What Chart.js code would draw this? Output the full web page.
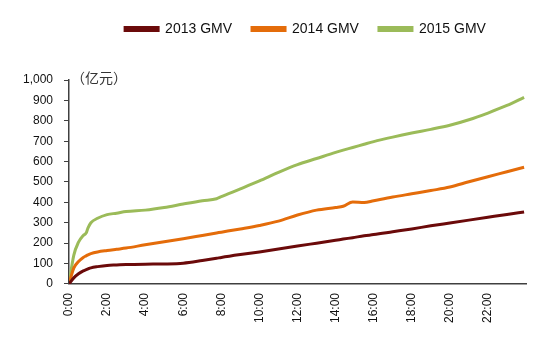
<!DOCTYPE html>
<html>
<head>
<meta charset="utf-8">
<script src="https://cdn.jsdelivr.net/npm/chart.js@4/dist/chart.umd.min.js"></script>
<style>
  html, body { margin: 0; padding: 0; background: #fff; }
  #wrap { width: 539px; height: 339px; }
</style>
</head>
<body>
<div id="wrap"><canvas id="gmvChart"></canvas></div>
<script>
// hour of day (decimal) and cumulative GMV in 亿元
const hours = [0, 0.25, 0.5, 0.75, 0.9, 1, 1.15, 1.5, 2, 2.5, 3, 4, 5, 6, 7, 7.75, 8, 9, 10, 11, 12, 13, 14, 14.4, 14.9, 15.5, 16, 17, 18, 19, 20, 21, 22, 23, 23.9];
const gmv2013 = [0, 30, 50, 64, 70, 74, 79, 85, 91, 93, 95, 97, 98, 102, 115, 126, 130, 144, 157, 171, 186, 200, 214, 220, 227, 236, 242, 256, 270, 285, 299, 313, 327, 341, 353];
const gmv2014 = [0, 78, 110, 130, 138, 143, 149, 157, 164, 170, 176, 192, 207, 222, 238, 250, 254, 270, 287, 308, 338, 362, 375, 381, 402, 399, 408, 426, 442, 458, 475, 501, 526, 550, 572];
const gmv2015 = [0, 140, 205, 238, 250, 275, 300, 322, 340, 347, 355, 362, 375, 392, 408, 418, 428, 466, 505, 547, 585, 615, 645, 656, 669, 685, 698, 720, 740, 758, 778, 805, 838, 875, 915];

const seriesNames = ['2013 GMV', '2014 GMV', '2015 GMV'];
const seriesColors = ['#6b0a0a', '#e46c0a', '#9bbb59'];
const unitLabel = '（亿元）';

function toPoints(values) {
    return values.map((v, i) => ({ x: hours[i], y: v }));
}

// extra room under the legend, and legend nudged right over the plot
const legendSpacing = {
    id: 'legendSpacing',
    beforeInit(chart) {
        const fit = chart.legend.fit;
        chart.legend.fit = function () {
            fit.call(this);
            this.height += 34;
        };
    },
    afterLayout(chart) {
        chart.legend.left += 32;
        chart.legend.right += 32;
    }
};

const unitPlugin = {
    id: 'unitLabel',
    afterDraw(chart) {
        const ctx = chart.ctx;
        ctx.save();
        ctx.font = '14px "Noto Sans CJK SC"';
        ctx.fillStyle = '#333';
        ctx.textBaseline = 'middle';
        ctx.fillText(unitLabel, chart.chartArea.left + 2, chart.chartArea.top - 2);
        ctx.restore();
    }
};

const axisColor = '#404040';
const textColor = '#111';

new Chart(document.getElementById('gmvChart'), {
    type: 'line',
    data: {
        datasets: [gmv2013, gmv2014, gmv2015].map((vals, i) => ({
            label: seriesNames[i],
            data: toPoints(vals),
            borderColor: seriesColors[i],
            backgroundColor: seriesColors[i],
            borderWidth: 3,
            pointRadius: 0,
            cubicInterpolationMode: 'monotone'
        }))
    },
    options: {
        responsive: true,
        maintainAspectRatio: false,
        animation: false,
        layout: {
            padding: { left: 21, right: 13, top: 2, bottom: 7 }
        },
        scales: {
            x: {
                type: 'linear',
                min: 0,
                max: 24,
                grid: { display: false, drawTicks: false },
                border: { display: true, color: axisColor, width: 1.5 },
                ticks: {
                    stepSize: 2,
                    autoSkip: false,
                    minRotation: 90,
                    maxRotation: 90,
                    padding: 9,
                    color: textColor,
                    font: { family: 'Liberation Sans, Arial', size: 12 },
                    callback: v => (v < 24 ? v + ':00' : null)
                }
            },
            y: {
                min: 0,
                max: 1000,
                grid: { drawOnChartArea: false, drawTicks: true, tickLength: 5, color: axisColor },
                border: { display: true, color: axisColor, width: 1.5 },
                ticks: {
                    stepSize: 100,
                    padding: 11,
                    color: textColor,
                    font: { family: 'Liberation Sans, Arial', size: 12 },
                    callback: v => v.toLocaleString('en-US')
                },
                afterFit: scale => { scale.width = 48; }
            }
        },
        plugins: {
            legend: {
                display: true,
                position: 'top',
                labels: {
                    boxWidth: 33,
                    boxHeight: 3,
                    padding: 20,
                    color: textColor,
                    font: { family: 'Liberation Sans, Arial', size: 14 }
                }
            },
            tooltip: { enabled: false }
        }
    },
    plugins: [legendSpacing, unitPlugin]
});
</script>
</body>
</html>
